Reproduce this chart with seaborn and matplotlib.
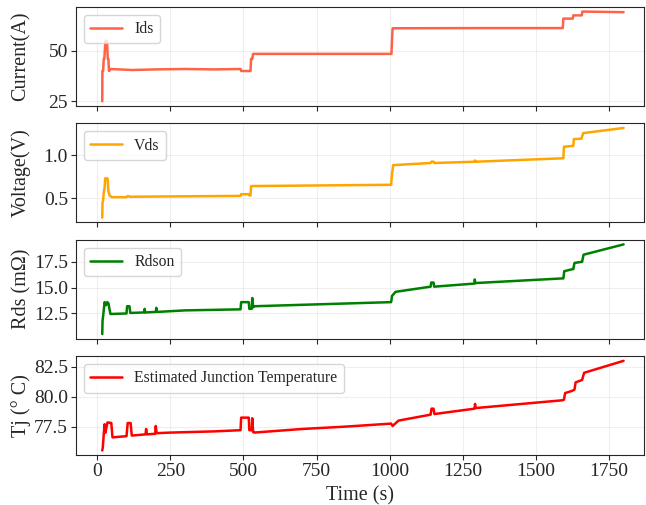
import matplotlib
matplotlib.use("Agg")
import matplotlib.pyplot as plt
from matplotlib.ticker import MultipleLocator
import seaborn as sns
import pandas as pd

# breakpoints (time in s)
ids_t = [17, 17.5, 20, 22, 24, 28, 33, 36, 38, 40, 45, 120, 200, 300, 400, 490, 492, 524, 526, 530, 533, 1006, 1008, 1010,
         1300, 1592, 1594, 1626, 1628, 1657, 1659, 1800]
ids_v = [25, 40, 40, 46, 46, 55, 55, 46, 46, 40, 41, 40.5, 40.8, 41, 40.8, 41, 40, 40, 46, 46, 48.5, 48.5, 55, 61.2,
         61.3, 61.3, 66, 66, 67.6, 67.6, 69.5, 69.2]

vds_t = [17, 18, 20, 22, 25, 27, 35, 38, 42, 50, 100, 105, 110, 300, 490, 492, 518, 520, 524, 526, 1005, 1008, 1012,
         1140, 1143, 1150, 1153, 1290, 1292, 1294, 1590, 1594, 1596, 1625, 1628, 1630, 1656, 1658, 1662, 1800]
vds_v = [0.27, 0.45, 0.47, 0.56, 0.62, 0.73, 0.73, 0.58, 0.53, 0.51, 0.51, 0.525, 0.515, 0.52, 0.525, 0.545, 0.545,
         0.53, 0.53, 0.64, 0.655, 0.78, 0.885, 0.91, 0.925, 0.925, 0.91, 0.925, 0.94, 0.925, 0.965, 0.965, 1.1, 1.11,
         1.11, 1.19, 1.195, 1.22, 1.26, 1.32]

rds_t = [17, 18, 21, 25, 30, 34, 38, 42, 45, 100, 102, 110, 113, 160, 162, 164, 200, 202, 204, 300, 490, 492, 518,
         520, 528, 530, 533, 535, 1005, 1008, 1020, 1140, 1142, 1150, 1152, 1290, 1291, 1293, 1590, 1594, 1597, 1625,
         1628, 1632, 1655, 1658, 1663, 1800]
rds_v = [10.5, 11.8, 12.5, 13.6, 13.3, 13.6, 13.5, 12.9, 12.45, 12.5, 13.2, 13.2, 12.55, 12.6, 12.95, 12.6, 12.65,
         13.05, 12.65, 12.8, 12.9, 13.6, 13.6, 12.95, 12.95, 14.0, 13.1, 13.2, 13.6, 14.2, 14.6, 15.1, 15.5, 15.5,
         15.1, 15.4, 15.8, 15.45, 15.9, 15.9, 16.6, 16.8, 16.8, 17.4, 17.5, 17.5, 18.2, 19.2]

tj_t = [17, 19, 22, 25, 28, 31, 35, 48, 52, 100, 104, 114, 118, 165, 167, 170, 198, 200, 203, 250, 400, 490, 492,
        518, 520, 528, 530, 533, 536, 700, 850, 1005, 1010, 1030, 1140, 1143, 1150, 1153, 1290, 1292, 1294, 1590, 1596,
        1600, 1625, 1632, 1636, 1658, 1665, 1800]
tj_v = [75.5, 75.8, 76.8, 77.7, 77.0, 77.4, 77.85, 77.8, 76.6, 76.7, 77.8, 77.8, 76.75, 76.85, 77.3, 76.85, 76.9,
        77.55, 76.95, 77.0, 77.1, 77.2, 78.25, 78.25, 77.2, 77.2, 78.2, 77.05, 77.0, 77.3, 77.5, 77.75, 77.55, 78.0,
        78.5, 79.0, 79.0, 78.55, 79.0, 79.4, 79.05, 79.7, 79.75, 80.3, 80.5, 80.6, 81.2, 81.4, 82.0, 83.0]

panels = [
    (ids_t, ids_v, "Ids", "tomato", "Current(A)", 25),
    (vds_t, vds_v, "Vds", "orange", "Voltage(V)", 0.5),
    (rds_t, rds_v, "Rdson", "green", "Rds (mΩ)", 2.5),
    (tj_t, tj_v, "Estimated Junction Temperature", "red", "Tj (° C)", 2.5),
]

sns.set_style("ticks")
plt.rcParams["font.family"] = ["Liberation Serif", "DejaVu Serif"]

fig, axes = plt.subplots(4, 1, figsize=(6.46, 5.05), dpi=100, sharex=True)
fig.subplots_adjust(left=0.118, right=0.997, top=0.986, bottom=0.099, hspace=0.18)

for ax, (t, v, name, color, ylab, step) in zip(axes, panels):
    df = pd.DataFrame({"t": t, "v": v})
    sns.lineplot(data=df, x="t", y="v", ax=ax, color=color, label=name,
                 estimator=None, sort=False, linewidth=1.8)
    ax.set_ylabel(ylab, fontsize=14.5, labelpad=2)
    ax.set_xlabel("")
    ax.yaxis.set_major_locator(MultipleLocator(step))
    ax.grid(True, alpha=0.3)
    ax.tick_params(labelsize=14, pad=2.5)
    ax.legend(loc="upper left", fontsize=11.3)

axes[-1].set_xlim(-72, 1870)
axes[-1].set_xlabel("Time (s)", fontsize=14.5, labelpad=4)
fig.align_ylabels(axes)

fig.savefig("out.png", dpi=100)
